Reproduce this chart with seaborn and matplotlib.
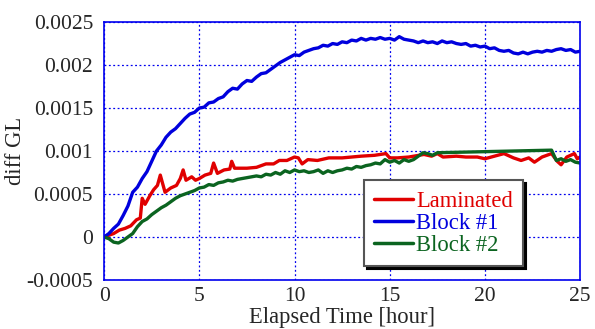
import numpy as np
import pandas as pd
import matplotlib
matplotlib.use("Agg")
import matplotlib.pyplot as plt
import seaborn as sns
from matplotlib.lines import Line2D

# ---- data ----
blue_t = [i * 0.25 for i in range(101)]
blue_v = [0, 0.00004, 0.00010, 0.00015, 0.00025, 0.00036, 0.00052, 0.00058, 0.00068, 0.00076,
          0.00088, 0.00100, 0.00107, 0.00116, 0.00122, 0.00126, 0.00132, 0.00138, 0.00143, 0.00145,
          0.00150, 0.00151, 0.00156, 0.00157, 0.00161, 0.00163, 0.00169, 0.00173, 0.00172, 0.00178,
          0.00182, 0.00181, 0.00186, 0.00190, 0.00191, 0.00195, 0.00199, 0.00203, 0.00206, 0.00209,
          0.00212, 0.00211, 0.00215, 0.00217, 0.00219, 0.00220, 0.00223, 0.00222, 0.00225, 0.00224,
          0.00227, 0.00226, 0.00229, 0.00228, 0.00231, 0.00229, 0.00231, 0.00230, 0.00232, 0.00230,
          0.00231, 0.00229, 0.00233, 0.00230, 0.00229, 0.00228, 0.00226, 0.00228, 0.00226, 0.00227,
          0.00225, 0.00228, 0.00226, 0.00227, 0.00225, 0.00224, 0.00225, 0.00222, 0.00223, 0.00221,
          0.00222, 0.00219, 0.00220, 0.00217, 0.00216, 0.00217, 0.00214, 0.00213, 0.00215, 0.00213,
          0.00215, 0.00216, 0.00215, 0.00217, 0.00216, 0.00218, 0.00219, 0.00217, 0.00218, 0.00215,
          0.00216]

green_t = [i * 0.25 for i in range(71)] + [23.5, 23.75, 24.0, 24.25, 24.5, 24.75, 25.0]
green_v = [0, -0.00002, -0.00006, -0.00007, -0.00004, 0.0, 0.00004, 0.00012, 0.00018, 0.00021,
           0.00026, 0.00030, 0.00034, 0.00037, 0.00041, 0.00045, 0.00048, 0.00050, 0.00052, 0.00054,
           0.00057, 0.00058, 0.00061, 0.00060, 0.00063, 0.00064, 0.00066, 0.00065, 0.00067, 0.00068,
           0.00069, 0.00070, 0.00071, 0.00070, 0.00073, 0.00072, 0.00075, 0.00073, 0.00077, 0.00075,
           0.00078, 0.00076, 0.00077, 0.00075, 0.00076, 0.00078, 0.00074, 0.00077, 0.00075, 0.00077,
           0.00078, 0.00080, 0.00079, 0.00082, 0.00081, 0.00083, 0.00084, 0.00086, 0.00085, 0.00090,
           0.00087, 0.00089, 0.00086, 0.00090, 0.00088, 0.00090, 0.00094, 0.00098, 0.00097, 0.00095,
           0.00098,
           0.00101, 0.00089, 0.00091, 0.00088, 0.00090, 0.00087, 0.00086]

red_t = [0, 0.5, 0.8, 1.1, 1.4, 1.7, 1.9, 2.0, 2.15, 2.4, 2.6, 2.8, 2.95, 3.2, 3.5, 3.8, 4.0, 4.15,
         4.3, 4.6, 4.8, 5.0, 5.3, 5.6, 5.75, 5.95, 6.3, 6.6, 6.7, 6.85, 7.5, 8.0, 8.5, 8.9, 9.2, 9.6,
         10.0, 10.2, 10.4, 10.7, 11.2, 11.8, 12.5, 13.5, 14.2, 14.8, 15.0, 15.4, 16.0, 16.8, 17.2,
         17.5, 17.8, 18.5, 19.0, 19.6, 20.0, 20.5, 21.0, 21.5, 21.9, 22.3, 22.6, 23.0, 23.5, 23.8,
         24.0, 24.3, 24.7, 24.85, 25.0]
red_v = [0, 0.00004, 0.00008, 0.00010, 0.00013, 0.00020, 0.00022, 0.00045, 0.00038, 0.00048,
         0.00055, 0.00060, 0.00072, 0.00052, 0.00057, 0.00060, 0.00068, 0.00078, 0.00066, 0.00070,
         0.00066, 0.00068, 0.00072, 0.00074, 0.00086, 0.00074, 0.00078, 0.00079, 0.00088, 0.00080,
         0.00080, 0.00081, 0.00085, 0.00085, 0.00089, 0.00089, 0.00093, 0.00092, 0.00085, 0.00090,
         0.00089, 0.00092, 0.00092, 0.00094, 0.00095, 0.00097, 0.00092, 0.00092, 0.00093, 0.00096,
         0.00094, 0.00097, 0.00093, 0.00094, 0.00093, 0.00093, 0.00091, 0.00094, 0.00097, 0.00092,
         0.00089, 0.00092, 0.00087, 0.00093, 0.00097, 0.00088, 0.00084, 0.00093, 0.00097, 0.00091,
         0.00093]

series_names = ["Laminated", "Block #1", "Block #2"]
x_ticks = [0, 5, 10, 15, 20, 25]
y_ticks = [-0.0005, 0, 0.0005, 0.001, 0.0015, 0.002, 0.0025]
y_tick_labels = ["-0.0005", "0", "0.0005", "0.001", "0.0015", "0.002", "0.0025"]

colors = {"Laminated": "#e00000", "Block #1": "#0000dd", "Block #2": "#0b6420"}

df = pd.concat([
    pd.DataFrame({"t": red_t, "v": red_v, "s": series_names[0]}),
    pd.DataFrame({"t": blue_t, "v": blue_v, "s": series_names[1]}),
    pd.DataFrame({"t": green_t, "v": green_v, "s": series_names[2]}),
], ignore_index=True)

sns.set_style("white")
plt.rcParams["font.family"] = ["Liberation Serif", "DejaVu Serif"]

fig = plt.figure(figsize=(5.95, 3.29), dpi=100)
ax = fig.add_axes([0.175, 0.149, 0.800, 0.784])

sns.lineplot(data=df, x="t", y="v", hue="s", hue_order=series_names, palette=colors,
             linewidth=2.4, sort=False, estimator=None, ax=ax, legend=False)

ax.set_xlim(0, 25)
ax.set_ylim(-0.0005, 0.0025)
ax.set_xticks(x_ticks)
ax.set_xticklabels([str(v) for v in x_ticks])
ax.set_yticks(y_ticks)
ax.set_yticklabels(y_tick_labels)
ax.grid(True, color="#0000ee", linestyle=(0, (1.5, 2)), linewidth=0.9)
for sp in ax.spines.values():
    sp.set_color("#0000ee")
    sp.set_linewidth(1.2)
    sp.set_linestyle((0, (3, 1)))
ax.tick_params(axis="both", labelsize=15.5, direction="in", length=3, color="#0000ee")
ax.tick_params(axis="x", pad=5)
ax.tick_params(axis="y", pad=8)
ax.set_xlabel("Elapsed Time [hour]", fontsize=16.3, labelpad=1)
ax.set_ylabel("diff GL", fontsize=16.3, labelpad=0)

handles = [Line2D([0], [0], color=colors[n], lw=2.5) for n in series_names]
leg = ax.legend(handles, series_names, loc="lower left", bbox_to_anchor=(0.546, 0.054),
                fontsize=16.3, frameon=True, fancybox=False, shadow={"color": "black", "alpha": 1},
                edgecolor="#555555", handlelength=1.7, handletextpad=0.15,
                labelspacing=0.05, borderpad=0.45, borderaxespad=0)
leg.get_frame().set_linewidth(1.5)
for txt, n in zip(leg.get_texts(), series_names):
    txt.set_color(colors[n])

fig.savefig("out.png", dpi=100)
